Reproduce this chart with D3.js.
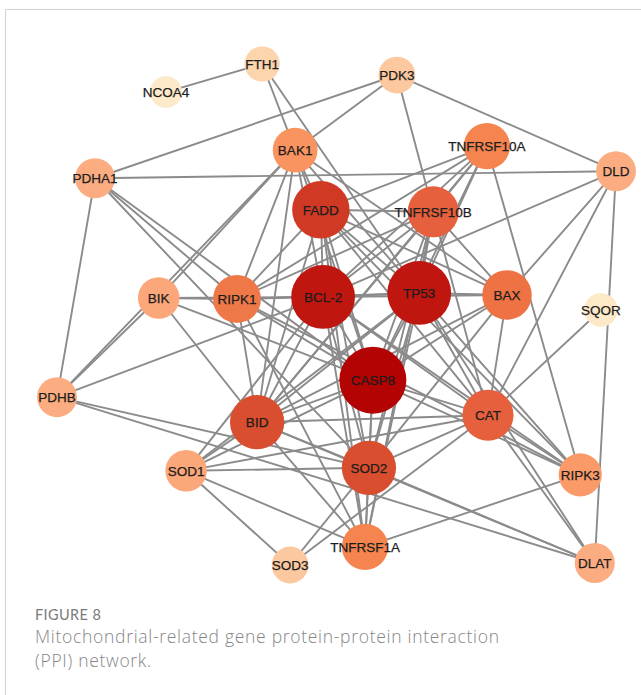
<!DOCTYPE html>
<html>
<head>
<meta charset="utf-8">
<script src="https://cdn.jsdelivr.net/npm/d3@7/dist/d3.min.js"></script>
<style>
  html, body { margin: 0; padding: 0; background: #ffffff; }
  svg { display: block; }
</style>
</head>
<body>
<svg id="chart" width="641" height="695"></svg>
<script>
// Genes in the PPI network
const genes = ["NCOA4", "FTH1", "PDK3", "BAK1", "TNFRSF10A", "DLD", "PDHA1", "FADD",
  "TNFRSF10B", "BIK", "RIPK1", "BCL-2", "TP53", "BAX", "SQOR", "CASP8", "PDHB",
  "BID", "CAT", "SOD2", "SOD1", "RIPK3", "TNFRSF1A", "SOD3", "DLAT"];

// Layout coordinates (0–100 grid) of each gene
const layoutX = [19.5, 36.7, 60.8, 42.6, 76.9, 100, 6.8, 47.2,
  67.3, 18.2, 32.2, 47.6, 64.8, 80.5, 97.3, 56.5, 0,
  35.8, 77.1, 55.8, 23.1, 93.6, 55.1, 41.7, 96.2];
const layoutY = [5.6, 0, 2.2, 17.2, 16.4, 21.4, 22.8, 29.1,
  29.5, 46.7, 46.9, 46.5, 45.7, 46.1, 49.1, 63.1, 66.5,
  71.5, 70.1, 80.6, 81.2, 82.0, 96.4, 100, 99.6];

// Node degree (drives node size and colour)
const degree = [1, 3, 4, 9, 10, 6, 6, 17,
  13, 7, 11, 21, 21, 12, 2, 23, 6,
  15, 13, 15, 7, 8, 10, 4, 6];

// Interactions
const interactions = [
  ["NCOA4", "FTH1"], ["FTH1", "BAK1"], ["FTH1", "TP53"],
  ["PDK3", "PDHA1"], ["PDK3", "BAK1"], ["PDK3", "TNFRSF10B"], ["PDK3", "DLD"],
  ["PDHA1", "DLD"], ["PDHA1", "PDHB"], ["PDHA1", "CASP8"], ["PDHA1", "SOD2"], ["PDHA1", "RIPK1"],
  ["PDHB", "BIK"], ["PDHB", "BAK1"], ["PDHB", "BCL-2"], ["PDHB", "SOD2"], ["PDHB", "DLAT"],
  ["DLD", "DLAT"], ["DLD", "CAT"], ["DLD", "BAX"], ["DLD", "BCL-2"],
  ["SQOR", "CAT"],
  ["BIK", "RIPK1"], ["BIK", "BCL-2"], ["BIK", "BAK1"], ["BIK", "BID"], ["BIK", "CASP8"],
  ["SOD1", "SOD2"], ["SOD1", "SOD3"], ["SOD1", "CAT"], ["SOD1", "TNFRSF1A"], ["SOD1", "BID"],
  ["SOD1", "BCL-2"], ["SOD1", "TP53"], ["SOD1", "CASP8"],
  ["SOD3", "SOD2"], ["SOD3", "CAT"],
  ["TNFRSF1A", "RIPK3"], ["TNFRSF10A", "RIPK3"],
  ["DLAT", "CAT"], ["DLAT", "SOD2"], ["DLAT", "BID"], ["DLAT", "TP53"],
  ["CASP8", "BCL-2"], ["CASP8", "TP53"], ["CASP8", "FADD"], ["CASP8", "BID"], ["CASP8", "RIPK1"],
  ["CASP8", "RIPK3"], ["CASP8", "TNFRSF10A"], ["CASP8", "TNFRSF10B"], ["CASP8", "TNFRSF1A"],
  ["CASP8", "BAX"], ["CASP8", "BAK1"], ["CASP8", "CAT"], ["CASP8", "SOD2"],
  ["TP53", "BCL-2"], ["TP53", "BAX"], ["TP53", "FADD"], ["TP53", "TNFRSF10A"], ["TP53", "TNFRSF10B"],
  ["TP53", "BID"], ["TP53", "CAT"], ["TP53", "SOD2"], ["TP53", "RIPK1"], ["TP53", "RIPK3"],
  ["TP53", "TNFRSF1A"], ["TP53", "BAK1"],
  ["BCL-2", "BAX"], ["BCL-2", "FADD"], ["BCL-2", "BAK1"], ["BCL-2", "TNFRSF10A"], ["BCL-2", "TNFRSF10B"],
  ["BCL-2", "BID"], ["BCL-2", "CAT"], ["BCL-2", "SOD2"], ["BCL-2", "RIPK1"], ["BCL-2", "RIPK3"],
  ["BCL-2", "TNFRSF1A"],
  ["FADD", "BAK1"], ["FADD", "TNFRSF10A"], ["FADD", "TNFRSF10B"], ["FADD", "BID"], ["FADD", "RIPK1"],
  ["FADD", "RIPK3"], ["FADD", "TNFRSF1A"], ["FADD", "BAX"], ["FADD", "CAT"], ["FADD", "SOD2"],
  ["BID", "BAK1"], ["BID", "BAX"], ["BID", "TNFRSF10A"], ["BID", "TNFRSF10B"], ["BID", "TNFRSF1A"],
  ["BID", "SOD2"], ["BID", "RIPK1"], ["BID", "CAT"],
  ["TNFRSF10B", "TNFRSF10A"], ["TNFRSF10B", "BAX"], ["TNFRSF10B", "RIPK1"], ["TNFRSF10B", "CAT"],
  ["TNFRSF10B", "TNFRSF1A"], ["TNFRSF10B", "SOD2"],
  ["BAX", "BAK1"], ["BAX", "CAT"], ["BAX", "SOD2"],
  ["CAT", "SOD2"], ["CAT", "RIPK3"],
  ["SOD2", "TNFRSF1A"],
  ["RIPK1", "BAK1"], ["RIPK1", "RIPK3"], ["RIPK1", "TNFRSF1A"], ["RIPK1", "TNFRSF10A"]
];

// Caption
const figureLabel = "FIGURE 8";
const captionLines = ["Mitochondrial-related gene protein-protein interaction", "(PPI) network."];

const svg = d3.select("#chart");

const x = d3.scaleLinear().domain([0, 100]).range([57, 616]);
const y = d3.scaleLinear().domain([0, 100]).range([64, 565]);
const radius = d3.scaleLinear().domain([1, 23]).range([16, 33.5]);
const colour = d3.scaleLinear()
  .domain([1, 2, 3, 4, 6, 7, 8, 9, 10, 11, 12, 13, 15, 17, 21, 23])
  .range(["#fdeacb", "#fde8c8", "#fcd5ad", "#fcc8a0", "#fbad81", "#fba77a", "#fa9a69", "#f9935f",
          "#f5844e", "#ef7848", "#ee7243", "#e6603d", "#d84e2e", "#d03a24", "#bf1610", "#b40303"]);

const nodes = genes.map((g, i) => ({ id: g, lx: layoutX[i], ly: layoutY[i], deg: degree[i] }));
const byId = new Map(nodes.map(n => [n.id, n]));
const links = interactions.map(([s, t]) => ({ source: byId.get(s), target: byId.get(t) }));

// Figure frame
svg.append("path")
  .attr("d", "M5.5,695 V9.5 H641")
  .attr("fill", "none")
  .attr("stroke", "#d2d2d2")
  .attr("stroke-width", 1);

// Edges
svg.append("g")
  .attr("stroke", "#8b8b8b")
  .attr("stroke-width", 1.9)
  .attr("stroke-linecap", "round")
  .selectAll("line")
  .data(links)
  .join("line")
  .attr("x1", d => x(d.source.lx))
  .attr("y1", d => y(d.source.ly))
  .attr("x2", d => x(d.target.lx))
  .attr("y2", d => y(d.target.ly));

// Nodes
const node = svg.append("g")
  .selectAll("g")
  .data(nodes)
  .join("g")
  .attr("transform", d => `translate(${x(d.lx)},${y(d.ly)})`);

node.append("circle")
  .attr("r", d => radius(d.deg))
  .attr("fill", d => colour(d.deg));

node.append("text")
  .text(d => d.id)
  .attr("text-anchor", "middle")
  .attr("dy", "0.36em")
  .attr("font-family", "'Liberation Sans', Arial, Helvetica, sans-serif")
  .attr("font-size", 13.5)
  .attr("fill", "#1c1c1c")
  .attr("stroke", "#1c1c1c")
  .attr("stroke-width", 0.25);

// Caption
svg.append("text")
  .attr("x", 35)
  .attr("y", 620)
  .attr("font-family", "Lato, 'Open Sans', sans-serif")
  .attr("font-size", 14.5)
  .attr("letter-spacing", 0.4)
  .attr("fill", "#7a7a7a")
  .text(figureLabel);

svg.append("g")
  .selectAll("text")
  .data(captionLines)
  .join("text")
  .attr("x", 35)
  .attr("y", (d, i) => 643 + i * 24)
  .attr("font-family", "'Open Sans', Lato, sans-serif")
  .attr("font-weight", 300)
  .attr("font-size", 17.5)
  .attr("letter-spacing", 0.7)
  .attr("fill", "#868686")
  .text(d => d);
</script>
</body>
</html>
